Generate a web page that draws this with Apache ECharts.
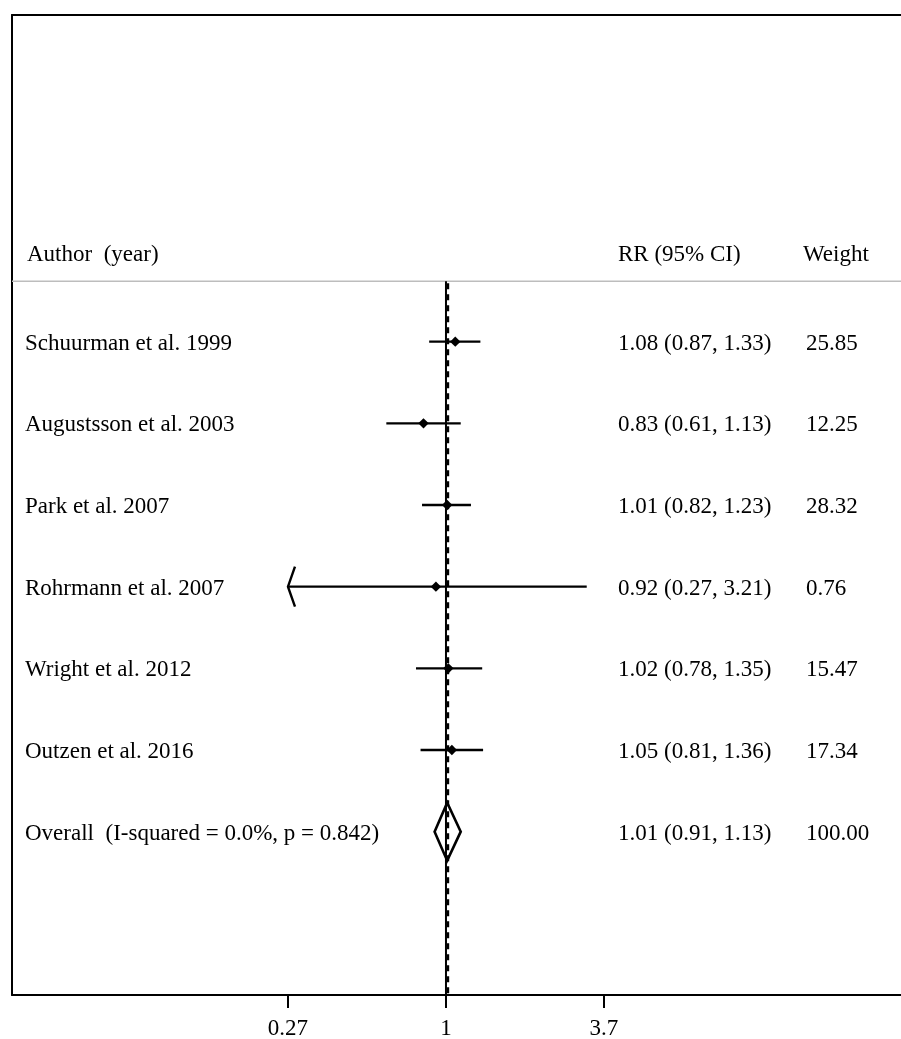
<!DOCTYPE html>
<html><head><meta charset="utf-8">
<script src="https://cdn.jsdelivr.net/npm/echarts@6/dist/echarts.min.js"></script>
<style>html,body{margin:0;padding:0;background:#fff}#c{width:901px;height:1039px}</style>
</head><body><div id="c"></div>
<script>
// ---- data ----
const studies = ['Schuurman et al. 1999','Augustsson et al. 2003','Park et al. 2007','Rohrmann et al. 2007','Wright et al. 2012','Outzen et al. 2016'];
const rr = [1.08, 0.83, 1.01, 0.92, 1.02, 1.05];
const lower = [0.87, 0.61, 0.82, 0.27, 0.78, 0.81];
const upper = [1.33, 1.13, 1.23, 3.21, 1.35, 1.36];
const weights = ['25.85','12.25','28.32','0.76','15.47','17.34'];
const overallLabel = 'Overall  (I-squared = 0.0%, p = 0.842)';
const overallRR = 1.01;
const overallLower = 0.91;
const overallUpper = 1.13;
const overallWeight = '100.00';
const headers = ['Author  (year)', 'RR (95% CI)', 'Weight'];
const tickValues = [0.27, 1, 3.7];
const tickLabels = ['0.27', '1', '3.7'];
const nullValue = 1;

// ---- layout ----
const L = v => Math.log10(v);
const axisMinRR = 0.02743, axisMaxRR = 43.4;
const firstRow = 8, overallRow = 2, headerRow = 9.085, sepRow = 8.74;
const FONT = '23px "Liberation Serif", "Times New Roman", serif';
const colName = 25, colCI = 618, colW = 806, colWHead = 803, textDy = 2;
const fmt = v => v.toFixed(2);
const ciText = i => fmt(rr[i]) + ' (' + fmt(lower[i]) + ', ' + fmt(upper[i]) + ')';
const tickMin = Math.min.apply(null, tickValues);

const chart = echarts.init(document.getElementById('c'), null, {renderer: 'canvas'});

const studyData = studies.map((s, i) => [L(lower[i]), L(upper[i]), L(rr[i]), firstRow - i, lower[i] <= tickMin ? 1 : 0]);

const textRows = [];
textRows.push({row: headerRow, a: headers[0], b: headers[1], c: headers[2], head: true});
studies.forEach((s, i) => textRows.push({row: firstRow - i, a: s, b: ciText(i), c: weights[i]}));
textRows.push({row: overallRow, a: overallLabel, b: fmt(overallRR) + ' (' + fmt(overallLower) + ', ' + fmt(overallUpper) + ')', c: overallWeight});

const option = {
  animation: false,
  backgroundColor: '#fff',
  grid: {left: 12, right: 0, top: 15, bottom: 44, containLabel: false, outerBoundsMode: 'none'},
  xAxis: [{
    type: 'value', min: L(axisMinRR), max: L(axisMaxRR), position: 'bottom',
    axisLine: {show: true, lineStyle: {color: '#000', width: 2}},
    axisTick: {show: true, length: 13, lineStyle: {color: '#000', width: 2}, customValues: tickValues.map(L)},
    axisLabel: {show: true, margin: 22, color: '#000', fontFamily: '"Liberation Serif", serif', fontSize: 23,
      customValues: tickValues.map(L),
      formatter: v => { let k = 0, d = 1e9; tickValues.forEach((t, j) => { const dd = Math.abs(L(t) - v); if (dd < d) { d = dd; k = j; } }); return tickLabels[k]; }},
    splitLine: {show: false}
  }, {
    type: 'value', min: L(axisMinRR), max: L(axisMaxRR), position: 'top',
    axisLine: {show: true, onZero: false, lineStyle: {color: '#000', width: 2}},
    axisTick: {show: false}, axisLabel: {show: false}, splitLine: {show: false}
  }],
  yAxis: {
    type: 'value', min: 0, max: 12, position: 'left',
    axisLine: {show: true, onZero: false, lineStyle: {color: '#000', width: 2}},
    axisTick: {show: false}, axisLabel: {show: false}, splitLine: {show: false}
  },
  series: [
    { // header separator + reference lines
      type: 'custom', silent: true, z: 1,
      data: [[0]],
      renderItem: function (params, api) {
        const sepL = api.coord([L(axisMinRR), sepRow]);
        const sepR = api.coord([L(axisMaxRR), sepRow]);
        const nTop = api.coord([L(nullValue), sepRow]);
        const nBot = api.coord([L(nullValue), 0]);
        const oTop = api.coord([L(overallRR), sepRow]);
        const oBot = api.coord([L(overallRR), 0]);
        return {type: 'group', children: [
          {type: 'line', shape: {x1: sepL[0], y1: sepL[1], x2: sepR[0], y2: sepR[1]}, style: {stroke: '#bdbdbd', lineWidth: 1.5}},
          {type: 'line', shape: {x1: nTop[0], y1: nTop[1], x2: nBot[0], y2: nBot[1]}, style: {stroke: '#000', lineWidth: 2}},
          {type: 'line', shape: {x1: oTop[0] + 0.8, y1: oTop[1] + 2, x2: oBot[0] + 0.8, y2: oBot[1]}, style: {stroke: '#000', lineWidth: 2.4, lineDash: [6, 5]}}
        ]};
      }
    },
    { // study CIs and point estimates
      type: 'custom', silent: true, z: 3,
      encode: {x: [0, 1, 2], y: 3},
      data: studyData,
      renderItem: function (params, api) {
        const y = api.value(3);
        const lo = api.coord([api.value(0), y]);
        const hi = api.coord([api.value(1), y]);
        const c = api.coord([api.value(2), y]);
        const h = 5.2;
        const ch = [
          {type: 'line', shape: {x1: lo[0], y1: lo[1], x2: hi[0], y2: hi[1]}, style: {stroke: '#000', lineWidth: 2.4}},
          {type: 'polygon', shape: {points: [[c[0] - h, c[1]], [c[0], c[1] - h], [c[0] + h, c[1]], [c[0], c[1] + h]]}, style: {fill: '#000'}}
        ];
        if (api.value(4) === 1) {
          ch.push({type: 'polyline', shape: {points: [[lo[0] + 7, lo[1] - 20], [lo[0], lo[1]], [lo[0] + 7, lo[1] + 20]]}, style: {stroke: '#000', lineWidth: 2.4, fill: null}});
        }
        return {type: 'group', children: ch};
      }
    },
    { // overall diamond
      type: 'custom', silent: true, z: 3,
      encode: {x: [0, 1, 2], y: 3},
      data: [[L(overallLower), L(overallUpper), L(overallRR), overallRow]],
      renderItem: function (params, api) {
        const y = api.value(3);
        const lo = api.coord([api.value(0), y]);
        const hi = api.coord([api.value(1), y]);
        const c = api.coord([api.value(2), y]);
        const hh = 29;
        return {type: 'polygon', shape: {points: [[lo[0], lo[1]], [c[0], c[1] - hh], [hi[0], hi[1]], [c[0], c[1] + hh]]},
          style: {fill: null, stroke: '#000', lineWidth: 2.6, lineJoin: 'miter'}};
      }
    },
    { // text columns
      type: 'custom', silent: true, z: 4,
      encode: {y: 0},
      data: textRows.map(r => [r.row]),
      renderItem: function (params, api) {
        const r = textRows[params.dataIndex];
        const p = api.coord([0, api.value(0)]);
        const mk = (x, t) => ({type: 'text', style: {text: t, x: x, y: p[1] + textDy, font: FONT, fill: '#000', align: 'left', verticalAlign: 'middle'}});
        return {type: 'group', children: [mk(r.head ? colName + 2 : colName, r.a), mk(colCI, r.b), mk(r.head ? colWHead : colW, r.c)]};
      }
    }
  ]
};
chart.setOption(option);
</script>
</body></html>
